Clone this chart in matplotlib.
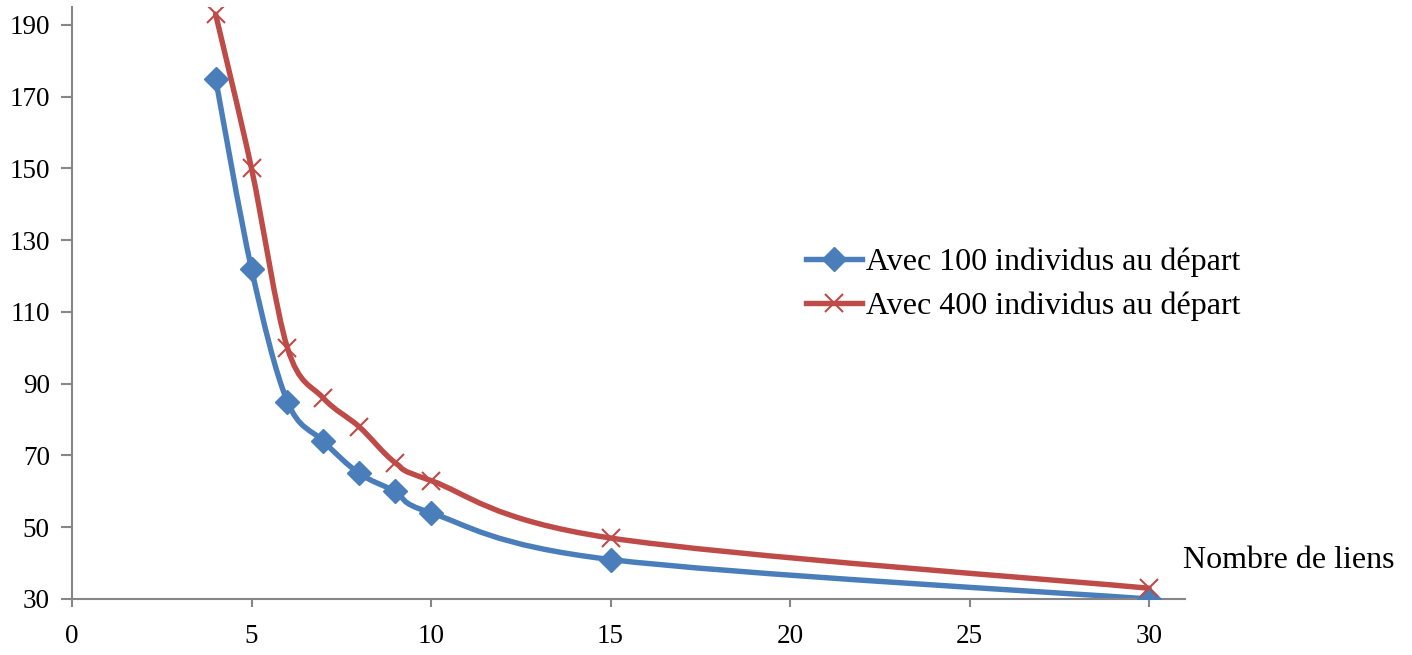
import numpy as np
import matplotlib
matplotlib.use('Agg')
import matplotlib.pyplot as plt
from matplotlib.path import Path
from matplotlib.patches import PathPatch
from matplotlib.lines import Line2D

# data
liens = [4, 5, 6, 7, 8, 9, 10, 15, 30]
avec_100 = [175, 122, 85, 74, 65, 60, 54, 41, 30]
avec_400 = [193, 150, 100, 86, 78, 68, 63, 47, 33]
labels = ['Avec 100 individus au départ', 'Avec 400 individus au départ']
yticks = [30, 50, 70, 90, 110, 130, 150, 170, 190]
xticks = [0, 5, 10, 15, 20, 25, 30]

blue = '#4A7EBB'
red = '#BE4B48'
axcol = '#868686'

plt.rcParams['font.family'] = ['Liberation Serif', 'DejaVu Serif']


def smooth_path(x, y):
  # excel-like smoothed line (catmull-rom as cubic bezier)
  pts = np.column_stack([x, y]).astype(float)
  n = len(pts)
  verts = [pts[0]]
  codes = [Path.MOVETO]
  for i in range(n - 1):
    p0 = pts[i - 1] if i > 0 else pts[i]
    p1 = pts[i]
    p2 = pts[i + 1]
    p3 = pts[i + 2] if i + 2 < n else pts[i + 1]
    c1 = p1 + (p2 - p0) / 6.0
    c2 = p2 - (p3 - p1) / 6.0
    verts += [c1, c2, p2]
    codes += [Path.CURVE4] * 3
  return Path(verts, codes)


fig = plt.figure(figsize=(14.12, 6.55), dpi=100)
ax = fig.add_axes([72 / 1412, 56 / 655, (1185 - 72) / 1412, (599 - 7) / 655])

for yv, col, mk, ms, mew in [(avec_100, blue, 'D', 12, 1), (avec_400, red, 'x', 13, 1.5)]:
  ax.add_patch(PathPatch(smooth_path(liens, yv), facecolor='none', edgecolor=col,
                         lw=3.9, capstyle='round', joinstyle='round', zorder=2))
  ax.plot(liens, yv, linestyle='none', marker=mk, ms=ms, color=col, mec=col, mew=mew, zorder=3)

ax.set_xlim(0, 31)
ax.set_ylim(30, 195)
ax.set_xticks(xticks)
ax.set_yticks(yticks)
for s in ['top', 'right']:
  ax.spines[s].set_visible(False)
for s in ['left', 'bottom']:
  ax.spines[s].set_color(axcol)
  ax.spines[s].set_linewidth(1.5)
ax.tick_params(axis='y', direction='out', length=8, width=1.5, color=axcol, labelsize=19.5, pad=8)
ax.tick_params(axis='x', direction='out', length=6, width=1.5, color=axcol, labelsize=19.5, pad=12)

handles = [Line2D([], [], color=blue, lw=3.9, marker='D', ms=12),
           Line2D([], [], color=red, lw=3.9, marker='x', ms=13, mew=1.5)]
fig.legend(handles, labels, loc='center left', bbox_to_anchor=(806 / 1412, 1 - 284 / 655),
           frameon=False, fontsize=23, handlelength=1.75, handletextpad=0.12, labelspacing=0.45,
           borderpad=0, borderaxespad=0)

fig.text(1183 / 1412, 1 - 560 / 655, 'Nombre de liens', ha='left', va='center', fontsize=23)

fig.savefig('out.png', dpi=100)
